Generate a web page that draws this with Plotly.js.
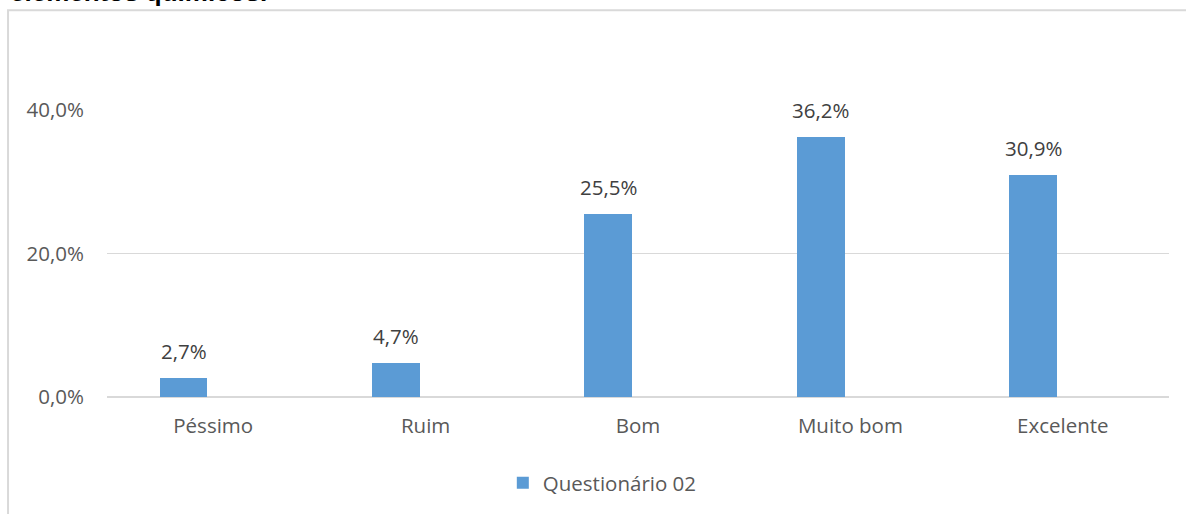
<!DOCTYPE html>
<html>
<head>
<meta charset="utf-8">
<script src="https://cdn.plot.ly/plotly-3.0.1.min.js"></script>
<style>html,body{margin:0;padding:0;background:#fff;}#chart{width:1186px;height:514px;}</style>
</head>
<body>
<div id="chart"></div>
<script>
const categories = ["Péssimo", "Ruim", "Bom", "Muito bom", "Excelente"];
const values = [2.7, 4.7, 25.5, 36.2, 30.9];
const seriesName = "Questionário 02";
const yTicks = [0, 20, 40];
const titleText = "elementos químicos.";

const FONT = "Open Sans, sans-serif";
const fmt = v => v.toFixed(1).replace('.', ',') + '%';

// plot area geometry
const L = 107, R = 1169.5, T = 110, B = 398, W = 1186, H = 514;
const pw = R - L, ph = B - T;
const px = x => (x - L) / pw;
const py = y => (B - y) / ph;

const barOffset = -0.252, barWidth = 0.2245;
const labelShift = (barOffset + barWidth / 2) * pw / categories.length;

const trace = {
  type: 'bar',
  x: categories,
  y: values,
  name: seriesName,
  offset: barOffset,
  width: barWidth,
  marker: {color: '#5b9bd5'},
  hoverinfo: 'none'
};

const annotations = categories.map((c, i) => ({
  x: c, y: values[i], xref: 'x', yref: 'y',
  text: fmt(values[i]), showarrow: false,
  xanchor: 'center', yanchor: 'bottom',
  xshift: labelShift, yshift: 11,
  font: {family: FONT, size: 20.5, color: '#404040'}
}));
annotations.push({
  x: px(8), y: py(9), xref: 'paper', yref: 'paper',
  text: '<b>' + titleText + '</b>', showarrow: false,
  xanchor: 'left', yanchor: 'bottom',
  font: {family: 'Liberation Sans, Arial, sans-serif', size: 26, color: '#000'}
});

const layout = {
  width: W, height: H,
  margin: {l: L, r: W - R, t: T, b: H - B, pad: 0},
  paper_bgcolor: '#fff', plot_bgcolor: '#fff',
  showlegend: true,
  legend: {
    orientation: 'h', x: px(503), y: py(483), xanchor: 'left', yanchor: 'middle',
    font: {family: FONT, size: 20.5, color: '#595959'}
  },
  xaxis: {
    type: 'category', showgrid: false, zeroline: false, showline: false,
    ticks: '', ticklabelstandoff: 14,
    tickfont: {family: FONT, size: 20.5, color: '#595959'}
  },
  yaxis: {
    range: [0, 40], tickvals: yTicks, ticktext: yTicks.map(fmt),
    showgrid: true, gridcolor: '#d9d9d9', gridwidth: 1,
    zeroline: true, zerolinecolor: '#d9d9d9', zerolinewidth: 1.5, showline: false,
    ticks: '', ticklabelstandoff: 22,
    tickfont: {family: FONT, size: 20.5, color: '#595959'}
  },
  shapes: [{
    type: 'rect', xref: 'paper', yref: 'paper',
    x0: px(8), x1: px(1200), y0: py(530), y1: py(10),
    line: {color: '#d9d9d9', width: 2}, fillcolor: 'rgba(0,0,0,0)', layer: 'below'
  }],
  annotations: annotations,
  bargap: 0
};

Plotly.newPlot('chart', [trace], layout, {displayModeBar: false, staticPlot: true});
</script>
</body>
</html>
